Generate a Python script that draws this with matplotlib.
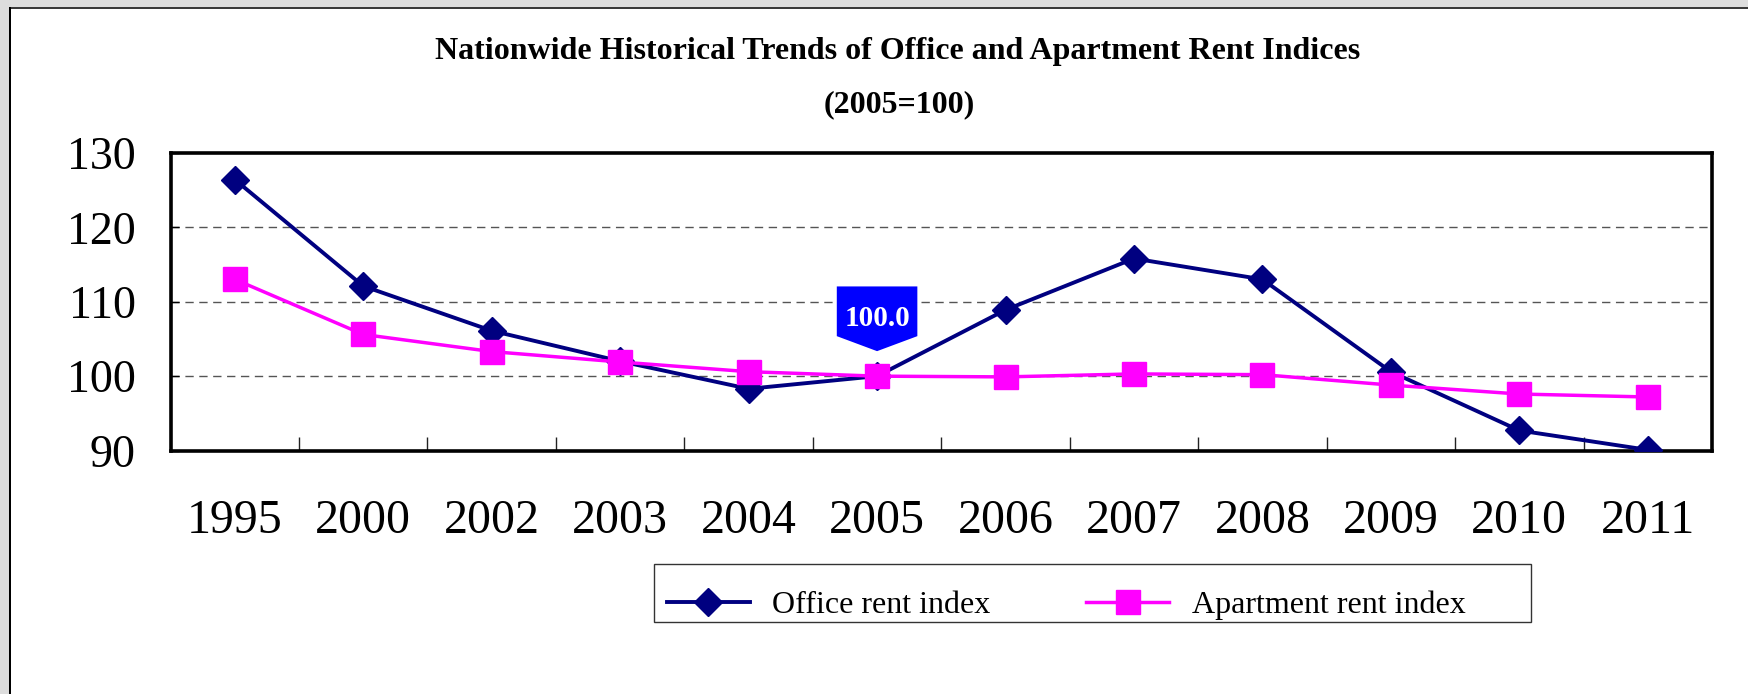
import numpy as np
import matplotlib
matplotlib.use("Agg")
import matplotlib.pyplot as plt
import matplotlib.transforms as mtransforms
from matplotlib.patches import Polygon, Rectangle
from matplotlib.lines import Line2D

# rent indices, 2005 = 100
years = ["1995", "2000", "2002", "2003", "2004", "2005",
         "2006", "2007", "2008", "2009", "2010", "2011"]
office = [126.4, 112.1, 106.1, 102.0, 98.3, 100.0,
          108.9, 115.8, 113.0, 100.6, 92.7, 90.1]
apartment = [113.0, 105.6, 103.3, 101.9, 100.6, 100.0,
             99.9, 100.3, 100.2, 98.8, 97.6, 97.2]
y_ticks = [90, 100, 110, 120, 130]
callout_year = "2005"

W, H = 1749, 694
plt.rcParams["font.family"] = ["Liberation Serif", "DejaVu Serif"]

fig = plt.figure(figsize=(W / 100, H / 100), dpi=100, facecolor="#DDDDDD")

# white sheet with dark edge on top and left
fig.patches.append(Rectangle((11 / W, 0), 1, (H - 9) / H, transform=fig.transFigure,
                             facecolor="white", edgecolor="none", zorder=-3))
fig.patches.append(Rectangle((10 / W, (H - 9) / H), 1, 2 / H, transform=fig.transFigure,
                             facecolor="#3a3a3a", edgecolor="none", zorder=-2))
fig.patches.append(Rectangle((9 / W, 0), 2 / W, (H - 7) / H, transform=fig.transFigure,
                             facecolor="black", edgecolor="none", zorder=-2))

ax = fig.add_axes([170.6 / W, 1 - 450.6 / H, (1712 - 170.6) / W, (450.6 - 152.8) / H])
x = np.arange(len(years))

office_style = dict(color="#000080", lw=2.8, marker="D", ms=14)
apart_style = dict(color="#FF00FF", lw=2.5, marker="s", ms=17)

ax.plot(x, office, zorder=3, **office_style)
ax.plot(x, apartment, zorder=4, **apart_style)

ax.set_xlim(-0.5, len(years) - 0.5)
ax.set_ylim(y_ticks[0], y_ticks[-1])
ax.set_yticks(y_ticks)
ax.set_xticks(x)
ax.set_xticklabels(years)
ax.set_xticks(x[:-1] + 0.5, minor=True)

for v in y_ticks[1:-1]:
    ax.axhline(v, color="#555555", lw=1.0, dashes=(6, 4), zorder=1)

for s in ax.spines.values():
    s.set_linewidth(2.6)
    s.set_color("black")

ax.tick_params(axis="x", which="major", length=0, pad=35, labelsize=34.5)
ax.tick_params(axis="x", which="minor", direction="in", length=10, width=1.0,
               color="#222222")
ax.tick_params(axis="y", direction="in", length=6, width=1.0, pad=25, labelsize=33)

# value callout above the 2005 point
i = years.index(callout_year)
anchor = mtransforms.ScaledTranslation(x[i], office[i], ax.transData)
trans = mtransforms.Affine2D().scale(fig.dpi / 72) + anchor
shape = [(-29, 64.6), (29, 64.6), (29, 28.8), (0, 18), (-29, 28.8)]
ax.add_patch(Polygon(shape, closed=True, transform=trans, facecolor="#0000FF",
                     edgecolor="none", zorder=5, clip_on=False))
ax.text(0, 41.5, f"{office[i]:.1f}", transform=trans, color="white",
        fontsize=21, fontweight="bold", ha="center", va="center", zorder=6)

fig.text(898 / W, 1 - 52 / H,
         "Nationwide Historical Trends of Office and Apartment Rent Indices",
         ha="center", va="center", fontsize=23, fontweight="bold")
fig.text(899 / W, 1 - 105 / H, "(2005=100)", ha="center", va="center",
         fontsize=23, fontweight="bold")

# legend with a fixed frame underneath
fig.patches.append(Rectangle((654 / W, 1 - 622 / H), 877 / W, 58 / H,
                             transform=fig.transFigure, facecolor="white",
                             edgecolor="#333333", lw=1.0, zorder=-1))
handles = [Line2D([], [], **office_style), Line2D([], [], **apart_style)]
fig.legend(handles, ["Office rent index", "Apartment rent index"], ncol=2,
           loc="center left", bbox_to_anchor=(654 / W, 1 - 605 / H),
           frameon=False, fontsize=23, handlelength=2.6, handletextpad=0.7,
           columnspacing=3.0, borderpad=0.4, borderaxespad=0)

fig.savefig("out.png", dpi=100, facecolor=fig.get_facecolor())
